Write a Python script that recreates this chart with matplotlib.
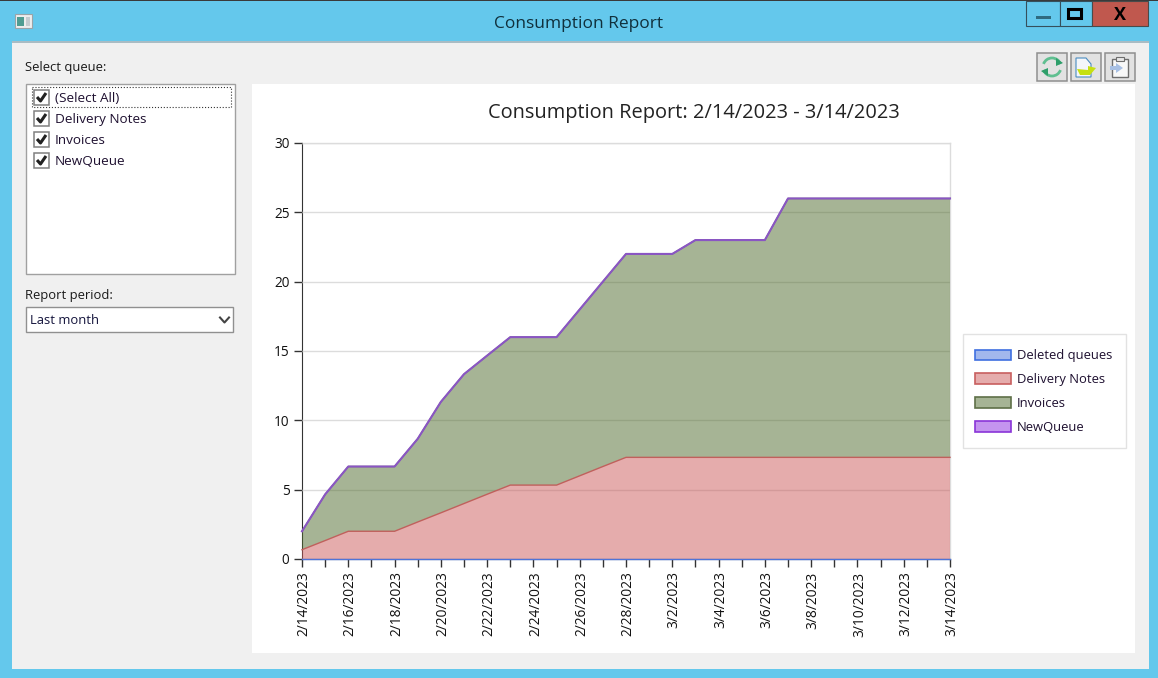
import datetime as dt
import matplotlib
matplotlib.use("Agg")
import matplotlib.pyplot as plt
import matplotlib.dates as mdates
from matplotlib.patches import Rectangle, Patch, Polygon, Arc
from matplotlib.transforms import ScaledTranslation

plt.rcParams['font.family'] = ['Open Sans', 'DejaVu Sans']

W, H = 1158, 678
start = dt.date(2023, 2, 14)
dates = [start + dt.timedelta(days=i) for i in range(29)]
deleted_queues = [0] * 29
delivery_notes = [0.67, 1.33, 2, 2, 2, 2.67, 3.33, 4, 4.67, 5.33, 5.33, 5.33, 6, 6.67, 7.33,
                  7.33, 7.33, 7.33, 7.33, 7.33, 7.33, 7.33, 7.33, 7.33, 7.33, 7.33, 7.33, 7.33, 7.33]
invoices = [1.33, 3.33, 4.67, 4.67, 4.67, 6, 8, 9.33, 10, 10.67, 10.67, 10.67, 12, 13.33, 14.67,
            14.67, 14.67, 15.67, 15.67, 15.67, 15.67, 18.67, 18.67, 18.67, 18.67, 18.67, 18.67, 18.67, 18.67]
new_queue = [0] * 29
series_names = ['Deleted queues', 'Delivery Notes', 'Invoices', 'NewQueue']
fills = ['#4470DD', '#CC5A5A', '#4F6B2C', '#8A2BE0']
edges = ['#4F74D8', '#C0605C', '#66784A', '#8A55C4']
queue_items = ['(Select All)', 'Delivery Notes', 'Invoices', 'NewQueue']
chart_title = 'Consumption Report: 2/14/2023 - 3/14/2023'
window_title = 'Consumption Report'

fig = plt.figure(figsize=(W / 100, H / 100), dpi=100)
bg = fig.add_axes([0, 0, 1, 1], zorder=0)
bg.set_xlim(0, W); bg.set_ylim(H, 0); bg.axis('off')

def rect(x, y, w, h, fc, ec='none', lw=1.0, z=1, ls='-'):
    bg.add_patch(Rectangle((x, y), w, h, fc=fc, ec=ec, lw=lw, zorder=z, ls=ls))

# window chrome
rect(0, 0, W, H, '#64C8EC')
rect(0, 0, W, 1, '#3A3A3A', z=2)
rect(12, 42, 1137, 627, '#F0F0F0', z=1)
rect(12, 41, 1137, 1.5, '#A9BCC4', z=2)
bg.text(579, 23.5, window_title, ha='center', va='center', fontsize=12.5, color='#10303C')
# title-bar icon
rect(15, 14, 17, 14, '#EDEDED', '#9AA4A8', 0.8, 3)
rect(17, 17, 7, 9, '#4F9C92', z=4)
rect(25.5, 17, 4, 9, '#C5CCD0', z=4)
# caption buttons
rect(1026, 1, 34, 25, '#64C8EC', '#35505C', 0.8, 2)
rect(1060, 1, 32, 25, '#64C8EC', '#35505C', 0.8, 2)
rect(1092, 1, 56, 25, '#C0584E', '#4A4A4A', 0.8, 2)
rect(1036, 16, 15, 2.5, '#2F6B80', z=3)
rect(1067.5, 8.5, 13, 9, 'none', 'black', 2.2, 3)
bg.text(1120, 15, 'X', ha='center', va='center', fontsize=13, fontweight='bold', color='black', zorder=3)

# left panel
TXT = 9.7
bg.text(25, 68, 'Select queue:', ha='left', va='center', fontsize=9.4, color='#1A1A1A')
rect(26, 84, 209, 190, 'white', '#A0A0A0', 1.0, 2)
rect(31.5, 86.5, 199, 20, 'none', '#333333', 0.8, 3, ls=':')
for item, y in zip(queue_items, [97, 118, 139, 160]):
    rect(34, y - 7, 15, 15, 'white', '#808080', 1.1, 3)
    bg.plot([37, 40.5, 46], [y, y + 4, y - 4], color='#222222', lw=2.2, zorder=4, solid_capstyle='butt')
    bg.text(55, y + 1.5, item, ha='left', va='center', fontsize=TXT, color='#1E1030', zorder=4)
bg.text(25, 296, 'Report period:', ha='left', va='center', fontsize=9.4, color='#1A1A1A')
rect(26, 307, 207, 25, 'white', '#909090', 1.0, 2)
bg.text(30, 321, 'Last month', ha='left', va='center', fontsize=9.4, color='#14143C', zorder=3)
bg.plot([220, 224.5, 229], [317.5, 322.5, 317.5], color='#444444', lw=1.5, zorder=3)

# toolbar buttons
for x in [1037, 1071, 1105]:
    rect(x, 53, 30, 28, '#E2E2E2', '#8F8F8F', 1.1, 2)
bg.add_patch(Arc((1052, 67), 18, 18, theta1=200, theta2=340, ec='#5FBF90', lw=2, zorder=3))
bg.add_patch(Arc((1052, 67), 18, 18, theta1=20, theta2=160, ec='#5FBF90', lw=2, zorder=3))
bg.add_patch(Polygon([[1056, 58], [1063, 63], [1056, 66]], fc='#2E9E6A', zorder=4))
bg.add_patch(Polygon([[1041, 71], [1048, 68], [1048, 76]], fc='#2E9E6A', zorder=4))
bg.add_patch(Polygon([[1076, 58], [1086, 58], [1091, 64], [1091, 77], [1076, 77]], fc='#F4F6FA', ec='#4A8CC0', lw=0.8, zorder=3))
bg.add_patch(Polygon([[1077, 69], [1088, 70], [1088, 66], [1096, 68], [1090, 75], [1080, 75]], fc='#C6E010', zorder=4))
rect(1112, 59, 16, 18, '#F8F8F8', '#6E6E6E', 1.0, 3)
rect(1116, 57, 8, 4, '#E8E8E8', '#6E6E6E', 0.8, 4)
bg.add_patch(Polygon([[1110, 66], [1116, 66], [1116, 63], [1123, 68], [1116, 73], [1116, 70], [1110, 70]], fc='#A8C0E4', zorder=4))

# chart panel
rect(252, 84, 883, 569, 'white', z=1)
bg.text(694, 113, chart_title, ha='center', va='center', fontsize=14.4, color='#222222', zorder=2)
rect(963, 334, 163, 114, 'white', '#E2E2E2', 1.0, 2)

# plot
L, R, T, B = 302, 950, 143, 559
ax = fig.add_axes([L / W, 1 - B / H, (R - L) / W, (B - T) / H], zorder=2)
ax.patch.set_alpha(0)
xs = mdates.date2num(dates)
stack = [deleted_queues, delivery_notes, invoices, new_queue]
base = [0] * 29
for vals, fc, ec, name in zip(stack, fills, edges, series_names):
    top = [a + b for a, b in zip(base, vals)]
    ax.fill_between(xs, base, top, facecolor=fc, alpha=0.5, lw=0, zorder=3)
    ax.plot(xs, top, color=ec, lw=1.5 if name == 'NewQueue' else 1.0, zorder=4, clip_on=False)
    base = top
ax.set_xlim(xs[0], xs[-1])
ax.set_ylim(0, 30)
ax.set_yticks(range(0, 31, 5))
ax.grid(axis='y', color='#DCDCDC', lw=1, zorder=1)
ax.set_axisbelow(False)
ax.xaxis.grid(False)
ax.set_xticks(xs)
ax.set_xticklabels([f'{d.month}/{d.day}/{d.year}' if i % 2 == 0 else '' for i, d in enumerate(dates)],
                   rotation=90, fontsize=9.9, color='#111111')
ax.tick_params(axis='x', length=6, width=1, color='#333333', pad=3)
ax.tick_params(axis='y', length=6, width=1, color='#333333', labelsize=9.8, labelcolor='#111111', pad=3)
shift = ScaledTranslation(2 / 100, 0, fig.dpi_scale_trans)
for lab in ax.get_xticklabels():
    lab.set_transform(lab.get_transform() + shift)
for s in ['top', 'right']:
    ax.spines[s].set_color('#DCDCDC'); ax.spines[s].set_linewidth(1)
ax.spines['left'].set_color('#333333')
ax.spines['bottom'].set_color('#333333')

handles = [Patch(facecolor=matplotlib.colors.to_rgba(f, 0.5), edgecolor=e, lw=1.2, label=n)
           for f, e, n in zip(fills, ['#3F6FE0', '#C85F5F', '#5F7048', '#8A35D8'], series_names)]
leg = fig.legend(handles=handles, loc='upper left', bbox_to_anchor=(975 / W, 1 - 349.5 / H),
                 bbox_transform=fig.transFigure, fontsize=9.4, frameon=False, borderaxespad=0,
                 handlelength=2.77, handleheight=0.9, handletextpad=0.45, labelspacing=0.82,
                 borderpad=0, labelcolor='#1E1030')
fig.savefig('out.png', dpi=100)
